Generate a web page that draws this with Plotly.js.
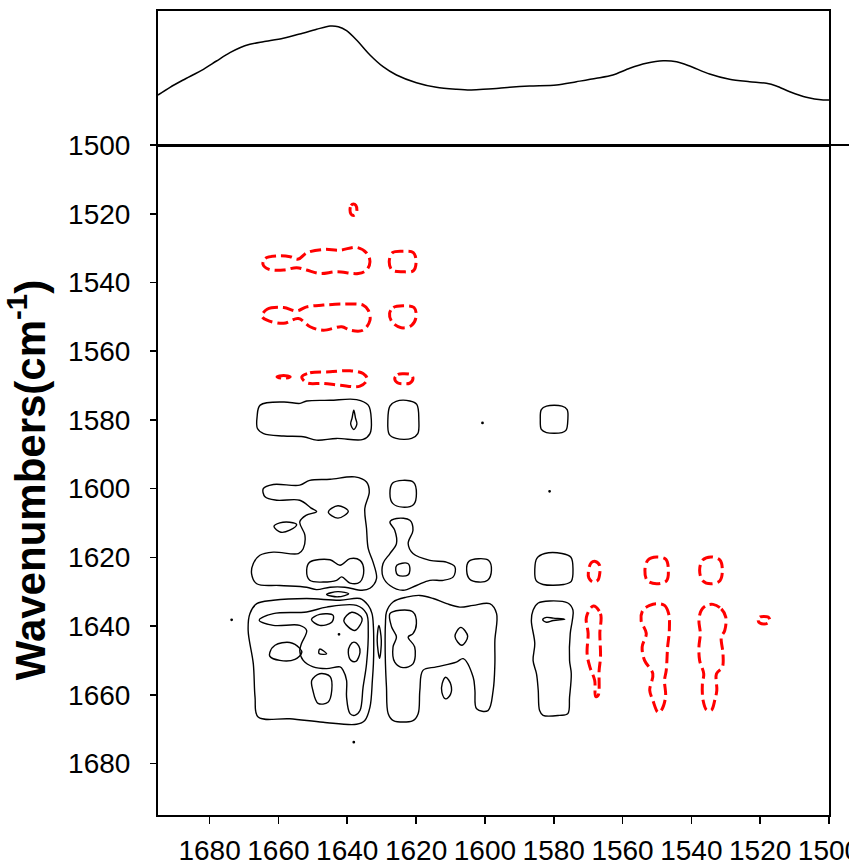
<!DOCTYPE html>
<html><head><meta charset="utf-8">
<script src="https://cdn.plot.ly/plotly-3.0.1.min.js"></script>
<style>html,body{margin:0;padding:0;background:#fff;} #chart{width:849px;height:865px;}</style>
</head><body><div id="chart"></div>
<script>
// ---------- axis ticks ----------
const xTickVals = [1680,1660,1640,1620,1600,1580,1560,1540,1520,1500];
const yTickVals = [1500,1520,1540,1560,1580,1600,1620,1640,1660,1680];

// ---------- top 1D spectrum (wavenumber, relative intensity) ----------
const specX = [1695.0,1691.5,1687.7,1681.8,1678.0,1674.1,1671.2,1668.3,1664.4,1658.6,1653.8,1648.9,1645.0,1642.6,1640.2,1637.3,1633.4,1629.6,1625.7,1619.9,1614.1,1608.2,1604.4,1600.5,1595.9,1592.8,1587.0,1579.2,1573.4,1567.6,1562.8,1557.9,1553.1,1548.2,1544.3,1540.5,1534.7,1528.9,1523.1,1518.2,1515.3,1511.4,1506.6,1501.7,1500.0];
const specY = [0.50,0.577,0.65,0.757,0.84,0.923,0.973,1.007,1.033,1.067,1.11,1.157,1.19,1.183,1.143,1.05,0.90,0.783,0.70,0.623,0.577,0.557,0.55,0.557,0.567,0.577,0.59,0.60,0.633,0.667,0.70,0.767,0.817,0.843,0.833,0.79,0.71,0.657,0.633,0.617,0.59,0.533,0.477,0.45,0.45];

// ---------- negative contours (red, dashed) [x, y] ----------
const neg1520 = [[1639.2,1518.9],[1638.9,1517.6],[1638.2,1517.2],[1637.5,1517.6],[1637.2,1518.9],[1637.5,1520.1],[1638.2,1520.5],[1638.9,1520.1]];
const neg1535Left = [[1664.5,1534.7],[1663.8,1533.0],[1660.4,1532.3],[1656.6,1532.5],[1654.2,1533.2],[1651.8,1531.4],[1647.0,1530.4],[1642.1,1530.6],[1637.3,1529.8],[1634.4,1531.4],[1633.4,1534.0],[1634.4,1536.4],[1636.8,1537.4],[1643.1,1536.9],[1647.9,1537.4],[1651.8,1536.4],[1654.7,1535.7],[1658.5,1536.4],[1662.9,1536.1]];
const neg1535Right = [[1627.8,1533.9],[1626.8,1531.3],[1623.9,1530.9],[1620.8,1531.3],[1620.0,1534.0],[1620.8,1536.6],[1623.9,1536.9],[1627.0,1536.4]];
const neg1550Left = [[1664.8,1549.8],[1663.3,1547.8],[1658.5,1547.3],[1654.7,1548.3],[1651.8,1547.1],[1647.0,1546.6],[1641.2,1546.3],[1635.4,1546.6],[1633.9,1548.1],[1633.4,1551.0],[1635.4,1553.9],[1639.2,1553.9],[1641.6,1552.9],[1647.0,1553.9],[1650.8,1552.9],[1654.2,1550.5],[1658.5,1551.9],[1663.3,1551.0]];
const neg1550Right = [[1627.7,1549.0],[1626.6,1547.3],[1623.8,1546.8],[1620.6,1547.3],[1620.0,1550.0],[1621.3,1552.5],[1624.3,1553.2],[1627.0,1551.5]];
const neg1568Dash = [[1660.4,1567.5],[1658.5,1567.1],[1656.6,1567.5],[1658.5,1567.9]];
const neg1568Left = [[1653.2,1567.5],[1650.8,1566.3],[1645.0,1566.0],[1639.2,1565.7],[1635.4,1566.5],[1634.2,1568.2],[1636.3,1570.2],[1642.1,1569.9],[1647.0,1569.4],[1651.8,1569.2]];
const neg1568Right = [[1626.2,1568.0],[1625.3,1566.8],[1623.6,1566.6],[1621.4,1566.9],[1620.9,1568.0],[1621.8,1569.3],[1623.6,1569.5],[1625.4,1569.2]];
const neg1623a = [[1569.9,1624.0],[1569.1,1621.6],[1567.9,1621.2],[1566.7,1622.3],[1566.6,1624.5],[1567.2,1626.7],[1568.6,1627.2],[1569.8,1626.0]];
const neg1623b = [[1553.5,1623.8],[1552.6,1620.8],[1550.1,1619.9],[1547.4,1620.6],[1546.7,1623.5],[1547.2,1626.8],[1550.1,1627.7],[1552.8,1626.8]];
const neg1623c = [[1537.6,1623.8],[1536.7,1620.8],[1534.3,1619.9],[1531.7,1620.8],[1531.0,1623.8],[1531.7,1626.8],[1534.3,1627.7],[1536.7,1626.8]];
const negCol1568 = [[1568.5,1634.2],[1566.4,1636.4],[1566.6,1642.2],[1566.4,1649.0],[1566.8,1652.9],[1567.1,1660.2],[1567.8,1660.5],[1568.1,1655.8],[1569.5,1651.9],[1570.3,1648.0],[1570.0,1642.2],[1570.5,1637.4]];
const negCol1550 = [[1550.2,1633.5],[1547.8,1634.0],[1546.6,1636.4],[1546.4,1641.3],[1546.9,1646.1],[1547.3,1652.9],[1547.8,1655.8],[1547.5,1660.7],[1548.8,1664.6],[1549.7,1665.1],[1551.2,1661.6],[1552.1,1658.7],[1551.2,1653.9],[1553.6,1650.0],[1554.3,1646.1],[1553.1,1642.2],[1554.6,1638.4],[1554.1,1635.4],[1552.1,1634.0]];
const negCol1534 = [[1533.7,1633.7],[1531.3,1635.0],[1530.0,1637.4],[1530.3,1641.3],[1531.3,1643.2],[1530.8,1648.1],[1531.0,1652.0],[1532.7,1653.9],[1532.6,1658.7],[1533.2,1661.6],[1534.2,1664.5],[1535.6,1664.4],[1536.6,1661.6],[1536.8,1656.8],[1536.4,1653.9],[1537.6,1650.0],[1537.8,1646.1],[1537.4,1642.2],[1537.8,1638.4],[1537.1,1635.4],[1535.6,1634.0]];
const neg1638Small = [[1520.6,1638.3],[1520.1,1637.4],[1518.9,1637.2],[1517.7,1637.4],[1517.2,1638.3],[1517.7,1639.1],[1518.9,1639.4],[1520.1,1639.1]];

// ---------- positive contours (black, solid) [x, y] ----------
const pos1580Left = [[1665.3,1575.7],[1658.5,1574.8],[1653.7,1575.2],[1651.8,1574.5],[1645.0,1574.3],[1637.3,1574.1],[1633.9,1575.7],[1633.0,1580.1],[1633.4,1584.0],[1635.4,1585.7],[1643.1,1585.4],[1648.9,1585.9],[1652.8,1584.9],[1658.5,1584.7],[1664.3,1584.0],[1666.1,1582.5],[1666.2,1579.1]];
const pos1580LeftCore = [[1638.1,1577.2],[1637.6,1579.5],[1637.2,1581.2],[1638.1,1582.8],[1639.0,1581.2],[1638.6,1579.5]];
const pos1580Mid = [[1628.2,1580.0],[1627.6,1576.0],[1625.8,1574.6],[1621.8,1574.5],[1619.8,1575.5],[1619.2,1580.0],[1619.5,1584.0],[1621.3,1585.4],[1625.8,1585.4],[1627.8,1584.2]];
const pos1580Dot = [[1600.9,1580.9],[1600.7,1580.7],[1600.5,1580.9],[1600.7,1581.1]];
const pos1580Right = [[1583.9,1580.0],[1583.6,1577.0],[1582.1,1576.0],[1577.6,1576.0],[1576.1,1577.0],[1575.9,1580.0],[1576.4,1583.0],[1577.6,1583.7],[1582.1,1583.7],[1583.6,1582.8]];
const pos1600Dot = [[1581.4,1600.8],[1581.2,1600.6],[1581.0,1600.8],[1581.2,1601.0]];
const pos1620Right = [[1585.5,1623.5],[1584.9,1620.3],[1582.6,1618.9],[1577.6,1618.9],[1575.0,1620.0],[1574.4,1623.5],[1574.9,1627.0],[1577.1,1627.9],[1583.1,1627.9],[1585.1,1626.8]];
const posCol1580 = [[1584.5,1633.3],[1581.2,1632.7],[1575.9,1633.3],[1574.4,1635.4],[1574.6,1638.4],[1575.2,1642.2],[1575.4,1650.0],[1574.9,1653.9],[1575.4,1660.7],[1575.9,1665.5],[1578.3,1666.0],[1583.1,1666.0],[1584.1,1664.6],[1584.5,1658.7],[1585.0,1653.9],[1586.0,1650.0],[1585.5,1645.1],[1586.5,1638.4],[1586.0,1635.4]];
const posCol1580Core = [[1583.2,1638.2],[1582.1,1637.5],[1580.1,1637.7],[1576.8,1638.0],[1580.1,1638.4],[1582.1,1638.9]];
const posDotLeft = [[1673.8,1638.2],[1673.6,1638.0],[1673.4,1638.2],[1673.6,1638.4]];
const posDotBottom = [[1638.3,1673.8],[1638.1,1673.6],[1637.9,1673.8],[1638.1,1674.0]];
const posUpperLeft = [[1664.4,1600.0],[1661.5,1598.8],[1653.8,1599.0],[1650.9,1597.6],[1645.0,1597.3],[1637.8,1596.6],[1634.4,1598.1],[1633.6,1601.0],[1634.9,1605.8],[1634.4,1611.6],[1633.9,1617.5],[1632.5,1621.4],[1631.5,1626.2],[1633.4,1629.0],[1635.7,1629.6],[1640.7,1628.7],[1645.0,1628.7],[1648.9,1629.4],[1651.8,1628.7],[1659.6,1628.2],[1666.3,1627.7],[1667.8,1624.8],[1667.3,1621.8],[1665.4,1619.4],[1661.5,1618.5],[1654.2,1618.9],[1652.8,1617.5],[1652.3,1613.6],[1653.8,1609.7],[1652.0,1607.8],[1648.9,1606.7],[1650.6,1605.6],[1653.8,1603.4],[1660.5,1603.4],[1663.9,1602.4]];
const posUpperLeftDiamond = [[1645.5,1606.8],[1642.7,1605.0],[1639.7,1606.6],[1642.7,1608.6]];
const posUpperLeftOval = [[1661.3,1611.0],[1659.6,1610.0],[1656.7,1609.8],[1654.7,1610.5],[1656.7,1612.1],[1659.3,1612.7]];
const posUpperLeftPeanut = [[1651.8,1623.8],[1650.9,1621.4],[1645.0,1620.7],[1642.1,1622.3],[1639.2,1620.4],[1636.3,1620.9],[1635.2,1623.8],[1636.3,1627.2],[1639.2,1627.5],[1641.6,1625.7],[1643.1,1626.7],[1647.0,1627.2],[1650.9,1626.7]];
const posSaddleLens = [[1646.0,1630.8],[1642.7,1630.0],[1639.6,1630.6],[1642.7,1631.5]];
const posLowerLeft = [[1666.3,1633.5],[1668.3,1636.4],[1668.8,1641.3],[1667.3,1651.0],[1666.8,1660.7],[1665.9,1666.5],[1656.7,1667.0],[1647.0,1668.0],[1637.3,1668.6],[1634.9,1667.5],[1633.4,1663.6],[1632.7,1655.8],[1632.4,1651.0],[1632.3,1646.1],[1632.4,1640.3],[1632.8,1636.4],[1633.9,1634.0],[1636.3,1632.0],[1642.1,1632.5],[1651.8,1632.0],[1661.5,1632.5]];
const posLowerLeftInner = [[1665.6,1638.3],[1661.5,1636.4],[1651.8,1635.9],[1646.0,1634.5],[1637.3,1634.0],[1634.4,1636.4],[1633.9,1641.3],[1634.4,1651.0],[1635.4,1657.8],[1636.3,1664.6],[1637.8,1666.0],[1639.2,1665.5],[1640.2,1660.7],[1640.2,1655.8],[1641.2,1652.9],[1642.1,1651.9],[1646.0,1652.4],[1649.9,1651.9],[1652.8,1650.0],[1653.8,1647.1],[1653.3,1645.1],[1651.8,1641.3],[1653.8,1639.8],[1661.5,1639.8]];
const posInnerOval1 = [[1650.4,1638.1],[1648.0,1636.6],[1644.1,1636.9],[1644.5,1638.9],[1648.0,1639.8]];
const posInnerDiamond = [[1641.0,1638.4],[1638.7,1636.0],[1635.7,1637.8],[1637.8,1641.3]];
const posInnerDot = [[1642.6,1642.4],[1642.4,1642.2],[1642.2,1642.4],[1642.4,1642.6]];
const posInnerTriangle = [[1648.0,1646.7],[1646.0,1648.1],[1648.2,1648.0]];
const posInnerOval2 = [[1638.1,1644.7],[1636.6,1645.9],[1636.3,1647.7],[1637.5,1650.3],[1638.9,1650.0],[1639.7,1647.7],[1639.2,1645.6]];
const posLowerOval = [[1648.0,1653.9],[1645.0,1654.7],[1644.5,1658.7],[1645.6,1662.2],[1648.5,1662.5],[1650.0,1658.7],[1650.3,1655.8]];
const posLeftOval = [[1662.5,1647.7],[1661.0,1645.6],[1656.7,1644.8],[1653.8,1646.5],[1653.2,1647.7],[1655.2,1649.7],[1659.6,1650.0],[1662.5,1648.8]];
const posRightBlock = [[1628.6,1635.9],[1626.7,1633.0],[1622.8,1631.6],[1618.9,1631.1],[1615.0,1632.0],[1611.1,1633.5],[1607.3,1634.5],[1603.4,1634.0],[1598.6,1633.5],[1596.6,1636.4],[1597.1,1644.2],[1597.1,1651.0],[1597.6,1658.7],[1599.1,1664.6],[1602.4,1664.1],[1602.9,1658.7],[1603.4,1654.9],[1606.3,1649.5],[1608.3,1650.5],[1614.1,1651.9],[1618.0,1652.9],[1618.9,1658.7],[1619.4,1665.5],[1620.9,1667.5],[1626.6,1667.5],[1628.1,1665.5],[1628.6,1657.8],[1628.9,1651.0],[1629.0,1644.2],[1628.9,1639.3]];
const posRightEight = [[1627.6,1636.4],[1624.7,1635.4],[1620.9,1635.9],[1619.9,1639.3],[1620.9,1642.2],[1622.3,1643.2],[1620.4,1646.1],[1620.9,1651.0],[1623.8,1652.1],[1626.2,1650.5],[1626.7,1646.1],[1625.7,1643.2],[1627.1,1640.3]];
const posRightDiamond = [[1608.7,1643.0],[1607.0,1640.4],[1605.0,1643.0],[1606.7,1645.6]];
const posRightOval = [[1611.4,1654.9],[1609.9,1657.0],[1610.0,1659.9],[1611.4,1661.2],[1612.5,1659.3],[1612.4,1656.7]];
const posThinLens = [[1630.8,1639.8],[1630.1,1644.2],[1630.6,1649.4],[1631.3,1644.2]];
const pos1600Circle = [[1627.6,1601.4],[1626.8,1598.4],[1623.9,1597.6],[1620.7,1598.2],[1619.9,1601.4],[1620.7,1604.6],[1623.9,1605.4],[1626.8,1604.3]];
const posCross = [[1627.6,1609.7],[1625.7,1608.7],[1621.8,1609.2],[1620.9,1612.1],[1622.3,1616.0],[1620.9,1618.9],[1616.0,1620.9],[1611.2,1621.4],[1608.7,1622.8],[1609.2,1625.7],[1612.1,1626.7],[1616.0,1626.7],[1619.9,1628.2],[1623.8,1629.6],[1627.6,1628.2],[1629.6,1625.7],[1629.6,1621.8],[1627.6,1618.9],[1625.7,1616.0],[1626.2,1612.1]];
const posCrossCore = [[1625.6,1622.3],[1622.4,1621.8],[1621.8,1623.8],[1622.4,1625.2],[1625.3,1625.2],[1625.9,1623.8]];
const pos1620Circle = [[1605.3,1623.8],[1604.7,1621.2],[1601.8,1620.4],[1598.9,1620.9],[1598.1,1623.8],[1599.2,1626.7],[1601.8,1627.2],[1604.4,1626.4]];

const negativeRings = [neg1520, neg1535Left, neg1535Right, neg1550Left, neg1550Right, neg1568Dash, neg1568Left, neg1568Right, neg1623a, neg1623b, neg1623c, negCol1568, negCol1550, negCol1534, neg1638Small];
const positiveRings = [pos1580Left, pos1580LeftCore, pos1580Mid, pos1580Dot, pos1580Right, pos1600Dot, pos1620Right, posCol1580, posCol1580Core, posDotLeft, posDotBottom, posUpperLeft, posUpperLeftDiamond, posUpperLeftOval, posUpperLeftPeanut, posSaddleLens, posLowerLeft, posLowerLeftInner, posInnerOval1, posInnerDiamond, posInnerDot, posInnerTriangle, posInnerOval2, posLowerOval, posLeftOval, posRightBlock, posRightEight, posRightDiamond, posRightOval, posThinLens, pos1600Circle, posCross, posCrossCore, pos1620Circle];

// join closed rings into one path list (repeat first point to close, null to separate)
function joinRings(rings) {
  const xs = [], ys = [];
  rings.forEach(r => {
    r.forEach(p => { xs.push(p[0]); ys.push(p[1]); });
    xs.push(r[0][0]); ys.push(r[0][1]);
    xs.push(null); ys.push(null);
  });
  return {xs, ys};
}
const negPath = joinRings(negativeRings);
const posPath = joinRings(positiveRings);

const FONT = 'Arial, "Liberation Sans", sans-serif';

const traces = [
  {type:'scatter', mode:'lines', x:posPath.xs, y:posPath.ys, xaxis:'x', yaxis:'y',
   line:{color:'#000', width:1.4, shape:'spline', smoothing:1}, hoverinfo:'skip'},
  {type:'scatter', mode:'lines', x:negPath.xs, y:negPath.ys, xaxis:'x', yaxis:'y',
   line:{color:'#ff0000', width:3, dash:'11px,5px', shape:'spline', smoothing:1}, hoverinfo:'skip'},
  {type:'scatter', mode:'lines', x:specX, y:specY, xaxis:'x2', yaxis:'y2',
   line:{color:'#000', width:1.5, shape:'spline', smoothing:0.8}, hoverinfo:'skip'}
];

const splitFrac = 670/804;

const layout = {
  width:849, height:865,
  margin:{l:158, r:20, t:11, b:50, pad:0},
  paper_bgcolor:'#fff', plot_bgcolor:'#fff',
  showlegend:false,
  font:{family:FONT, color:'#000'},
  xaxis:{
    domain:[0,1], anchor:'y', range:[1695,1500],
    tickmode:'array', tickvals:xTickVals, ticktext:xTickVals.map(String),
    ticks:'outside', ticklen:7, tickwidth:1.6, tickcolor:'#000',
    showline:true, linewidth:2, linecolor:'#000', mirror:false,
    showgrid:false, zeroline:false,
    tickfont:{family:FONT, size:28, color:'#000'},
    ticklabelstandoff:2, ticklabeloverflow:'allow'
  },
  yaxis:{
    domain:[0,splitFrac], anchor:'x', range:[1695,1500],
    tickmode:'array', tickvals:yTickVals, ticktext:yTickVals.map(String),
    ticks:'outside', ticklen:6, tickwidth:1.6, tickcolor:'#000',
    showline:true, linewidth:2, linecolor:'#000', mirror:true,
    showgrid:false, zeroline:false,
    tickfont:{family:FONT, size:28, color:'#000'},
    ticklabelstandoff:14,
    title:{text:'<b>Wavenumbers(cm<sup>-1</sup>)</b>', font:{family:FONT, size:42, color:'#000'}, standoff:20}
  },
  xaxis2:{
    domain:[0,1], anchor:'y2', range:[1695,1500],
    showticklabels:false, ticks:'', showline:true, linewidth:2, linecolor:'#000', mirror:true,
    showgrid:false, zeroline:false
  },
  yaxis2:{
    domain:[splitFrac,1], anchor:'x2', range:[0,1.34],
    showticklabels:false, ticks:'', showline:true, linewidth:2, linecolor:'#000', mirror:true,
    showgrid:false, zeroline:false
  },
  shapes:[
    {type:'line', xref:'paper', yref:'paper', x0:-0.0104, x1:1.03, y0:splitFrac, y1:splitFrac,
     line:{color:'#000', width:2}}
  ]
};

Plotly.newPlot('chart', traces, layout, {displayModeBar:false, staticPlot:true});
</script>
</body></html>
